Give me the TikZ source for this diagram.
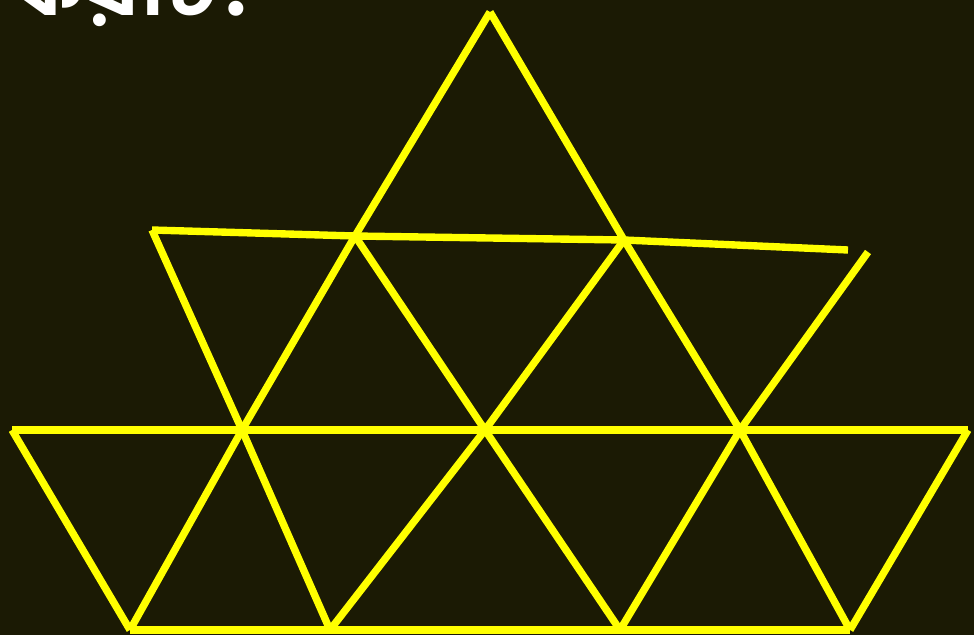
\documentclass[tikz,border=0pt]{standalone}
\usepackage{fontspec}
\usepackage{tikz}
\newfontfamily\bengfont[Script=Bengali]{Hind Siliguri}
\definecolor{mybg}{RGB}{27,26,4}
\definecolor{myyellow}{RGB}{255,255,0}
\tikzset{
  stick/.style={draw=myyellow, line width=4.2pt, line cap=butt, line join=miter},
  qtext/.style={font=\bengfont\bfseries\fontsize{54}{58}\selectfont, text=white, inner sep=0pt, anchor=base west}
}

\begin{document}
\begin{tikzpicture}[x=0.02cm, y=-0.02cm]
  % Background
  \fill[mybg] (0,0) rectangle (974,635);
  \useasboundingbox (0,0) rectangle (974,635);

  % Question text (cut off at the top)
  \node[qtext] (question) at (12,16) {কয়টি?};

  % Top apex and upper row
  \coordinate (apex) at (490,12);
  \coordinate (ul) at (152,230);
  \coordinate (p1) at (355,236);
  \coordinate (p2) at (624,240);
  \coordinate (ur) at (848,250);
  \coordinate (rs) at (868,252);

  % Middle row
  \coordinate (ml) at (12,430);
  \coordinate (m1) at (242,430);
  \coordinate (m2) at (485,430);
  \coordinate (m3) at (740,430);
  \coordinate (mr) at (968,430);

  % Bottom row
  \coordinate (b1) at (130,630);
  \coordinate (b2) at (330,630);
  \coordinate (b3) at (620,630);
  \coordinate (b4) at (850,630);

  % Horizontal sticks
  \draw[stick] (ul) -- (p1) -- (p2) -- (ur);
  \draw[stick] (ml) -- (m1) -- (m2) -- (m3) -- (mr);
  \draw[stick] (b1) -- (b2) -- (b3) -- (b4);

  % Slanted sticks
  \draw[stick] (apex) -- (p1) -- (m1) -- (b1);
  \draw[stick] (apex) -- (p2) -- (m3) -- (b4);
  \draw[stick] (ul) -- (m1) -- (b2);
  \draw[stick] (p1) -- (m2) -- (b3);
  \draw[stick] (p2) -- (m2) -- (b2);
  \draw[stick] (rs) -- (m3) -- (b3);
  \draw[stick] (ml) -- (b1);
  \draw[stick] (mr) -- (b4);
\end{tikzpicture}
\end{document}
